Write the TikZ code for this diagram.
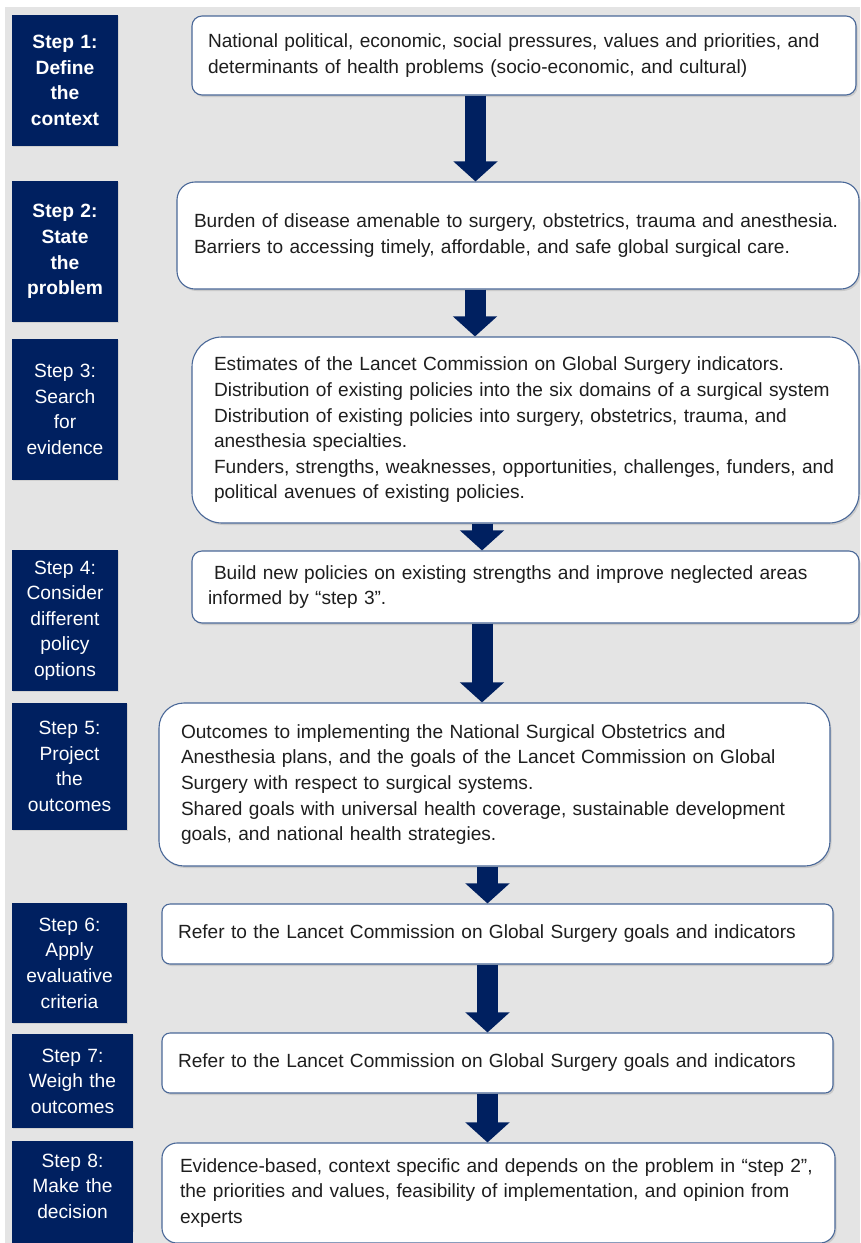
\documentclass[tikz,border=0pt]{standalone}
\usepackage{fontspec}
\setmainfont{Liberation Sans}
\usetikzlibrary{arrows.meta,shadows}
\definecolor{navy}{HTML}{002060}
\definecolor{bggray}{HTML}{E4E4E4}
\definecolor{boxedge}{HTML}{4A6898}
\definecolor{txt}{HTML}{1E1E1E}
\tikzset{
  stepbox/.style={fill=navy, text=white, align=center, inner sep=0pt,
    font=\fontsize{19.2}{25.6}\selectfont,
    drop shadow={shadow xshift=1pt, shadow yshift=-1pt, opacity=0.2}},
  infobox/.style n args={4}{draw=boxedge, line width=1.1pt, fill=white, text=txt,
    align=left, inner ysep=0pt, text width=#1, inner xsep=#2,
    minimum height=#3, rounded corners=#4,
    font=\fontsize{19.1}{25.6}\selectfont,
    drop shadow={shadow xshift=1.5pt, shadow yshift=-2pt, opacity=0.25}},
  flow/.style={navy, line width=21pt, -{Triangle[width=43pt,length=20pt]}}
}
\begin{document}
\begin{tikzpicture}[x=1pt,y=-1pt]
\useasboundingbox (0,0) rectangle (860,1243);
\fill[white] (0,0) rectangle (860,1243);
\fill[bggray] (5,7) rectangle (860,1243);

% step labels
\node[stepbox, minimum width=106pt, text width=104pt, minimum height=131pt] (s1) at (65,80.5)
  {\bfseries Step 1:\\Define\\the\\context};
\node[stepbox, minimum width=106pt, text width=104pt, minimum height=141pt] (s2) at (65,251.5)
  {\bfseries Step 2:\\State\\the\\problem};
\node[stepbox, minimum width=106pt, text width=104pt, minimum height=141pt] (s3) at (65,409.5)
  {Step 3:\\Search\\for\\evidence};
\node[stepbox, minimum width=106pt, text width=104pt, minimum height=141pt] (s4) at (65,620.5)
  {Step 4:\\Consider\\different\\policy\\options};
\node[stepbox, minimum width=115pt, text width=113pt, minimum height=127pt] (s5) at (69.5,766.5)
  {Step 5:\\Project\\the\\outcomes};
\node[stepbox, minimum width=115pt, text width=113pt, minimum height=120pt] (s6) at (69.5,963)
  {Step 6:\\Apply\\evaluative\\criteria};
\node[stepbox, minimum width=121pt, text width=119pt, minimum height=94pt] (s7) at (72.5,1081)
  {Step 7:\\Weigh the\\outcomes};
\node[stepbox, minimum width=121pt, text width=119pt, minimum height=90pt] (s8) at (72.5,1186)
  {Step 8:\\Make the\\decision};
\fill[navy] ([yshift=1pt]s8.south west) rectangle (133,1243);

% content boxes
\node[infobox={632pt}{16pt}{79pt}{10pt}] (b1) at (524,55.5)
  {\mbox{National political, economic, social pressures, values and priorities, and}\\
   \mbox{determinants of health problems (socio-economic, and cultural)}};
\node[infobox={648pt}{17pt}{107pt}{18pt}] (b2) at (518,235.5)
  {\mbox{Burden of disease amenable to surgery, obstetrics, trauma and anesthesia.}\\
   \mbox{Barriers to accessing timely, affordable, and safe global surgical care.}};
\node[infobox={623pt}{22pt}{186pt}{30pt}] (b3) at (525.5,430)
  {\mbox{Estimates of the Lancet Commission on Global Surgery indicators.}\\
   \mbox{Distribution of existing policies into the six domains of a surgical system}\\
   \mbox{Distribution of existing policies into surgery, obstetrics, trauma, and}\\
   \mbox{anesthesia specialties.}\\
   \mbox{Funders, strengths, weaknesses, opportunities, challenges, funders, and}\\
   \mbox{political avenues of existing policies.}};
\node[infobox={635pt}{16pt}{72pt}{10pt}] (b4) at (525.5,587)
  {\mbox{\hspace{6pt}Build new policies on existing strengths and improve neglected areas}\\
   \mbox{informed by ``step 3''.}};
\node[infobox={627pt}{22pt}{163pt}{25pt}] (b5) at (494.5,784.5)
  {\mbox{Outcomes to implementing the National Surgical Obstetrics and}\\
   \mbox{Anesthesia plans, and the goals of the Lancet Commission on Global}\\
   \mbox{Surgery with respect to surgical systems.}\\
   \mbox{Shared goals with universal health coverage, sustainable development}\\
   \mbox{goals, and national health strategies.}};
\node[infobox={639pt}{16pt}{60pt}{8pt}] (b6) at (497.5,934)
  {\mbox{Refer to the Lancet Commission on Global Surgery goals and indicators}};
\node[infobox={639pt}{16pt}{60pt}{8pt}] (b7) at (497.5,1063)
  {\mbox{Refer to the Lancet Commission on Global Surgery goals and indicators}};
\node[infobox={637pt}{18pt}{100pt}{15pt}] (b8) at (498.5,1193)
  {\mbox{Evidence-based, context specific and depends on the problem in ``step 2'',}\\
   \mbox{the priorities and values, feasibility of implementation, and opinion from}\\
   \mbox{experts}};

% arrow axes
\coordinate (c1) at (475.5,0);
\coordinate (c2) at (475,0);
\coordinate (c3) at (482,0);
\coordinate (c4) at (482,0);
\coordinate (c5) at (487.5,0);
\coordinate (c6) at (487.5,0);
\coordinate (c7) at (487.5,0);

\draw[flow] (b1.south -| c1) -- (b2.north -| c1);
\draw[flow] (b2.south -| c2) -- (b3.north -| c2);
\draw[flow] (b3.south -| c3) -- (b4.north -| c3);
\draw[flow] (b4.south -| c4) -- (b5.north -| c4);
\draw[flow] (b5.south -| c5) -- (b6.north -| c5);
\draw[flow] (b6.south -| c6) -- (b7.north -| c6);
\draw[flow] (b7.south -| c7) -- (b8.north -| c7);
\end{tikzpicture}
\end{document}
